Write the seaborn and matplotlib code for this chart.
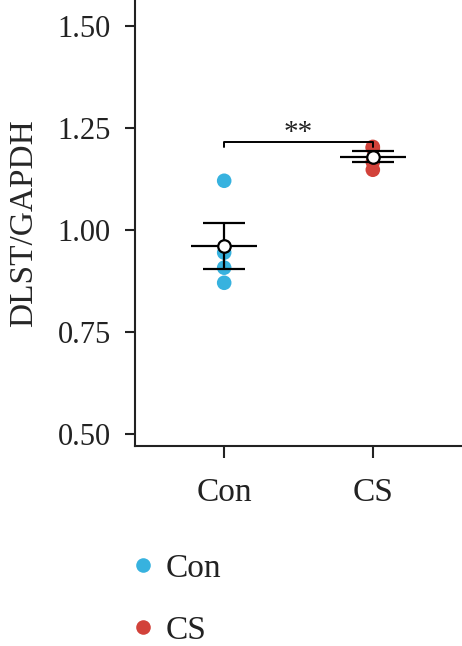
import numpy as np
import pandas as pd
import matplotlib
matplotlib.use("Agg")
import matplotlib.pyplot as plt
import seaborn as sns

# ---- data ----
groups = ["Con", "CS"]
con_values = [1.12, 0.944, 0.907, 0.870]
cs_values = [1.203, 1.200, 1.166, 1.147]
colors = ["#37B2DF", "#D2423A"]
y_ticks = [0.50, 0.75, 1.00, 1.25, 1.50]
y_label = "DLST/GAPDH"
sig_label = "**"

sns.set_theme(style="ticks")
plt.rcParams["font.family"] = ["Liberation Serif", "DejaVu Serif"]
plt.rcParams["text.color"] = "#222222"

df = pd.DataFrame({
    "group": ["Con"] * len(con_values) + ["CS"] * len(cs_values),
    "value": con_values + cs_values,
})

fig = plt.figure(figsize=(4.62, 6.46), dpi=100)
ax = fig.add_axes([135 / 462, 1 - 446 / 646, 1 - 135 / 462, 446 / 646])

sns.stripplot(data=df, x="group", y="value", hue="group", order=groups,
              palette=colors, size=10.5, jitter=False, ax=ax, legend=True, zorder=2)

# mean ± SEM
for i, g in enumerate(groups):
    vals = np.array(df.loc[df.group == g, "value"])
    m = vals.mean()
    sem = vals.std(ddof=1) / np.sqrt(len(vals))
    ax.hlines(m, i - 0.22, i + 0.22, color="black", lw=1.6, zorder=3)
    ax.errorbar(i, m, yerr=sem, fmt="none", ecolor="black", elinewidth=1.6,
                capsize=15, capthick=1.6, zorder=3)
    ax.plot(i, m, "o", ms=9, mfc="white", mec="black", mew=1.6, zorder=4)

# significance bracket
yb = 1.215
ax.plot([0, 0, 1, 1], [yb - 0.012, yb, yb, yb - 0.012], color="black", lw=1.4)
ax.text(0.5, yb + 0.022, sig_label, ha="center", va="center", fontsize=21)

ax.set_xlim(-0.6, 1.6)
ax.set_ylim(0.47, 1.563)
ax.set_yticks(y_ticks)
ax.set_yticklabels([f"{t:.2f}" for t in y_ticks])
ax.set_xlabel("")
ax.set_ylabel(y_label, fontsize=24, labelpad=13)
ax.tick_params(axis="y", labelsize=22, length=7.5, width=1.5, colors="#222222", pad=10)
ax.tick_params(axis="x", labelsize=24, length=8.5, width=1.5, colors="#222222", pad=14)
for s in ["left", "bottom"]:
    ax.spines[s].set_linewidth(1.5)
    ax.spines[s].set_color("#222222")
sns.despine(ax=ax)

handles, labels = ax.get_legend_handles_labels()
ax.get_legend().remove()
fig.legend(handles, labels, loc="upper left", bbox_to_anchor=(116 / 462, 1 - 540 / 646),
           frameon=False, fontsize=24, labelspacing=0.95, handletextpad=0.3,
           handlelength=0.8, markerscale=1.0, borderaxespad=0)

fig.savefig("out.png", dpi=100)
